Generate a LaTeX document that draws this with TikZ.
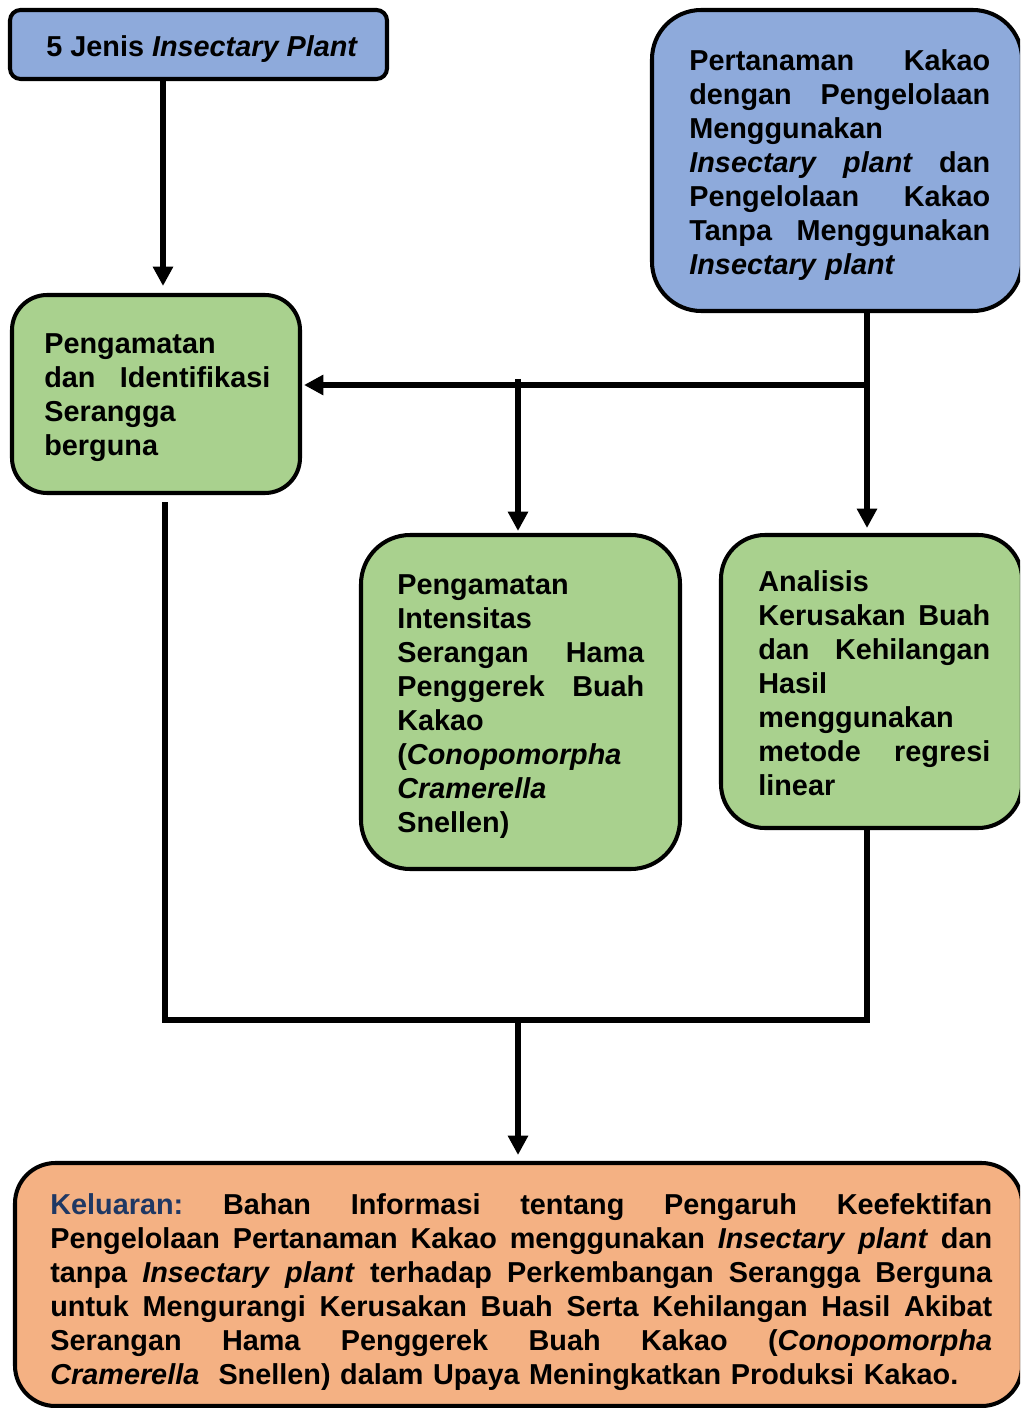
\documentclass[tikz,border=0pt]{standalone}
\usepackage{fontspec}
\setmainfont{Liberation Sans}
\usepackage{xcolor}
\usetikzlibrary{arrows.meta,fit,calc}

\definecolor{boxblue}{HTML}{8EAADB}
\definecolor{boxgreen}{HTML}{A9D18E}
\definecolor{boxorange}{HTML}{F4B183}
\definecolor{navy}{HTML}{1F3864}

% justified line: width, words split by \hfill
\newcommand{\jl}[2]{\leavevmode\hbox to #1{#2}}

\tikzset{
  kotak/.style={draw=black, line width=2.3pt, inner sep=0pt},
  teks/.style={anchor=north west, inner sep=0pt, align=left,
    font=\fontsize{16.4}{19.35}\selectfont\bfseries},
  garis/.style={line width=3.4pt},
  panah/.style={garis, -{Triangle[width=11pt,length=11pt]}},
}

\begin{document}
\begin{tikzpicture}[x=0.02cm, y=-0.02cm]
    \clip (0,0) rectangle (1020,1408);

    % Boxes
    \node[kotak, fill=boxblue, rounded corners=6pt, fit={(10,10) (387,79)}] (jenis) {};
    \node[kotak, fill=boxblue, rounded corners=28pt, fit={(652,10) (1022,311)}] (tanam) {};
    \node[kotak, fill=boxgreen, rounded corners=20pt, fit={(12,295) (300,493)}] (amati) {};
    \node[kotak, fill=boxgreen, rounded corners=28pt, fit={(361,535) (680,869)}] (serang) {};
    \node[kotak, fill=boxgreen, rounded corners=25pt, fit={(721,535) (1022,828)}] (analisis) {};
    \node[kotak, fill=boxorange, rounded corners=23pt, fit={(15,1163) (1022,1406)}] (keluaran) {};

    % Texts
    \node[teks] (tjenis) at (46,35) {5 Jenis \textit{Insectary Plant}};

    \node[teks, text width=6.02cm] (ttanam) at (689,49) {%
        \jl{6.02cm}{Pertanaman\hfill Kakao}\\
        \jl{6.02cm}{dengan\hfill Pengelolaan}\\
        Menggunakan\\
        \jl{6.02cm}{\textit{Insectary}\hfill\textit{plant}\hfill dan}\\
        \jl{6.02cm}{Pengelolaan\hfill Kakao}\\
        \jl{6.02cm}{Tanpa\hfill Menggunakan}\\
        \textit{Insectary plant}};

    \node[teks, text width=4.52cm] (tamati) at (44,333) {%
        Pengamatan\\
        \jl{4.52cm}{dan\hfill Identifikasi}\\
        Serangga\\
        berguna};

    \node[teks, text width=4.94cm] (tserang) at (397,574) {%
        Pengamatan\\
        Intensitas\\
        \jl{4.94cm}{Serangan\hfill Hama}\\
        \jl{4.94cm}{Penggerek\hfill Buah}\\
        Kakao\\
        (\textit{Conopomorpha}\\
        \textit{Cramerella}\\
        Snellen)};

    \node[teks, text width=4.64cm] (tanalisis) at (758,570) {%
        Analisis\\
        \jl{4.64cm}{Kerusakan\hfill Buah}\\
        \jl{4.64cm}{dan\hfill Kehilangan}\\
        Hasil\\
        menggunakan\\
        \jl{4.64cm}{metode\hfill regresi}\\
        linear};

    \node[teks, text width=18.84cm] (tkeluaran) at (50,1193) {%
        \jl{18.84cm}{{\color{navy}Keluaran:}\hfill Bahan\hfill Informasi\hfill tentang\hfill Pengaruh\hfill Keefektifan}\\
        \jl{18.84cm}{Pengelolaan\hfill Pertanaman\hfill Kakao\hfill menggunakan\hfill \textit{Insectary}\hfill\textit{plant}\hfill dan}\\
        \jl{18.84cm}{tanpa\hfill\textit{Insectary}\hfill\textit{plant}\hfill terhadap\hfill Perkembangan\hfill Serangga\hfill Berguna}\\
        \jl{18.84cm}{untuk\hfill Mengurangi\hfill Kerusakan\hfill Buah\hfill Serta\hfill Kehilangan\hfill Hasil\hfill Akibat}\\
        \jl{18.84cm}{Serangan\hfill Hama\hfill Penggerek\hfill Buah\hfill Kakao\hfill (\textit{Conopomorpha}}\\
        \textit{Cramerella}\ \ Snellen) dalam Upaya Meningkatkan Produksi Kakao.};

    % Junctions
    \coordinate (cabang) at (867,385);
    \coordinate (tengah) at (518,383);
    \coordinate (gabung) at (518,1020);

    % Connectors
    \draw[panah] ($(jenis.south)+(-35.5,0)$) -- ($(amati.north)+(7,-7)$);
    \draw[panah] (tanam.south -| cabang) -- ($(analisis.north -| cabang)+(0,-5)$);
    \draw[panah] (cabang) -- ($(cabang -| amati.east)+(2,0)$);
    \draw[panah] ($(tengah)+(0,-4)$) -- ($(serang.north -| tengah)+(0,-2)$);
    \draw[garis] ($(amati.south)+(9,7)$) coordinate (kiri)
        -- (kiri |- gabung) -- (gabung -| cabang) -- (analisis.south -| cabang);
    \draw[panah] (gabung) -- ($(keluaran.north -| gabung)+(0,-6)$);
\end{tikzpicture}
\end{document}
